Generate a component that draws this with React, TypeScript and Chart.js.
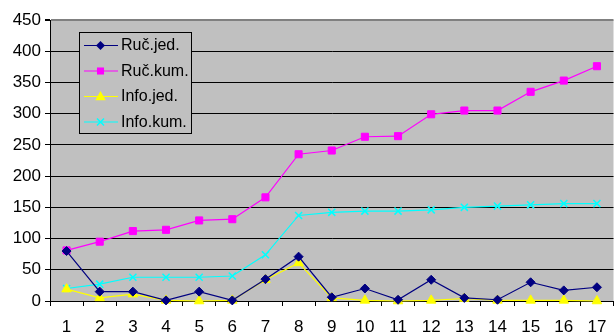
import React, { useEffect, useRef } from "react";
import { Chart, registerables } from "chart.js";

Chart.register(...registerables);

const categories = ["1","2","3","4","5","6","7","8","9","10","11","12","13","14","15","16","17"];
const rucJed = [80, 15, 15, 1, 15, 1, 35, 71, 6, 20, 2, 34, 5, 2, 30, 17, 22];
const rucKum = [81, 95, 112, 114, 129, 131, 166, 235, 241, 263, 264, 299, 305, 305, 335, 353, 376];
const infoJed = [19, 5, 11, 1, 0, 1, 34, 61, 5, 1, 0, 1, 4, 1, 1, 1, 0];
const infoKum = [20, 27, 38, 38, 38, 40, 74, 137, 142, 144, 144, 146, 150, 152, 154, 156, 156];
const seriesNames = ["Ruč.jed.", "Ruč.kum.", "Info.jed.", "Info.kum."];
const yTicks = [0, 50, 100, 150, 200, 250, 300, 350, 400, 450];

const colors = ["#000080", "#FF00FF", "#FFFF00", "#00FFFF"];
const styles = ["rectRot", "rect", "triangle", "crossRot"];
const radii = [4.5, 5, 5.5, 5];

function drawMarker(ctx: CanvasRenderingContext2D, style: string, x: number, y: number, r: number, color: string) {
  ctx.save();
  ctx.fillStyle = color;
  ctx.strokeStyle = color;
  ctx.lineWidth = 1.5;
  ctx.beginPath();
  if (style === "rectRot") {
    ctx.moveTo(x, y - r); ctx.lineTo(x + r, y); ctx.lineTo(x, y + r); ctx.lineTo(x - r, y); ctx.closePath();
    ctx.fill();
  } else if (style === "rect") {
    const s = r * Math.SQRT1_2;
    ctx.rect(x - s, y - s, 2 * s, 2 * s);
    ctx.fill();
  } else if (style === "triangle") {
    ctx.moveTo(x, y - r); ctx.lineTo(x + r * 0.95, y + r * 0.7); ctx.lineTo(x - r * 0.95, y + r * 0.7); ctx.closePath();
    ctx.fill();
  } else {
    const s = r * Math.SQRT1_2;
    ctx.moveTo(x - s, y - s); ctx.lineTo(x + s, y + s);
    ctx.moveTo(x + s, y - s); ctx.lineTo(x - s, y + s);
    ctx.stroke();
  }
  ctx.restore();
}

const bgPlugin = {
  id: "plotBg",
  beforeDraw(chart: any) {
    const { ctx, chartArea } = chart;
    ctx.save();
    ctx.fillStyle = "#FFFFFF";
    ctx.fillRect(0, 0, chart.width, chart.height);
    ctx.fillStyle = "#C0C0C0";
    ctx.fillRect(chartArea.left, chartArea.top, chartArea.right - chartArea.left, chartArea.bottom - chartArea.top);
    ctx.restore();
  },
};

const legendPlugin = {
  id: "boxLegend",
  afterDraw(chart: any) {
    const ctx: CanvasRenderingContext2D = chart.ctx;
    ctx.save();
    ctx.fillStyle = "#C0C0C0";
    ctx.fillRect(79.5, 32.5, 112, 101);
    ctx.strokeStyle = "#000000";
    ctx.lineWidth = 1;
    ctx.strokeRect(79.5, 32.5, 112, 101);
    const rows = [45, 70.5, 96, 121.5];
    ctx.font = "16px 'Liberation Sans', Arial, sans-serif";
    ctx.textBaseline = "middle";
    seriesNames.forEach((name, i) => {
      const y = rows[i];
      ctx.strokeStyle = colors[i];
      ctx.lineWidth = 1;
      ctx.beginPath();
      ctx.moveTo(84, y + 0.5);
      ctx.lineTo(118, y + 0.5);
      ctx.stroke();
      drawMarker(ctx, styles[i], 100.5, y + 0.5, radii[i], colors[i]);
      ctx.fillStyle = "#000000";
      ctx.fillText(name, 121, y + 1);
    });
    ctx.restore();
  },
};

export default function App() {
  const ref = useRef<HTMLCanvasElement>(null);
  useEffect(() => {
    const data = [rucJed, rucKum, infoJed, infoKum];
    const chart = new Chart(ref.current!, {
      type: "line",
      data: {
        labels: categories,
        datasets: data.map((d, i) => ({
          label: seriesNames[i],
          data: d,
          borderColor: colors[i],
          backgroundColor: colors[i],
          pointBorderColor: colors[i],
          pointBackgroundColor: colors[i],
          borderWidth: 1.2,
          pointStyle: styles[i] as any,
          pointRadius: radii[i],
          pointBorderWidth: i === 3 ? 1.5 : 1,
          tension: 0,
          fill: false,
          clip: false as any,
        })),
      },
      options: {
        responsive: false,
        animation: false,
        layout: { padding: { top: 20, right: 0, left: 0, bottom: 0 } },
        plugins: { legend: { display: false }, tooltip: { enabled: false } },
        scales: {
          x: {
            offset: true,
            grid: { offset: true, drawOnChartArea: false, drawTicks: true, tickLength: 5, color: "#000000", tickColor: "#000000" },
            border: { color: "#000000", width: 1 },
            ticks: { color: "#000000", padding: 11, font: { size: 17, family: "'Liberation Sans', Arial, sans-serif" }, maxRotation: 0, autoSkip: false },
            afterFit(scale: any) { scale.height = 31; },
          },
          y: {
            min: 0,
            max: 450,
            afterBuildTicks(scale: any) { scale.ticks = yTicks.map((v) => ({ value: v })); },
            grid: {
              color: (c: any) => (c.tick && c.tick.value === 450 ? "#808080" : "#000000"),
              lineWidth: (c: any) => (c.tick && c.tick.value === 450 ? 2 : 1),
              tickLength: 5,
              tickColor: "#000000",
            },
            border: { color: "#000000", width: 1 },
            ticks: { color: "#000000", padding: 4, font: { size: 17, family: "'Liberation Sans', Arial, sans-serif" } },
            afterFit(scale: any) { scale.width = 50; },
          },
        },
      },
      plugins: [bgPlugin, legendPlugin],
    });
    return () => chart.destroy();
  }, []);
  return (
    <div style={{ position: "fixed", left: 0, top: 0, width: 615, height: 332, overflow: "hidden", background: "#fff" }}>
      <canvas ref={ref} width={620} height={332} style={{ display: "block", width: 620, height: 332 }} />
    </div>
  );
}
